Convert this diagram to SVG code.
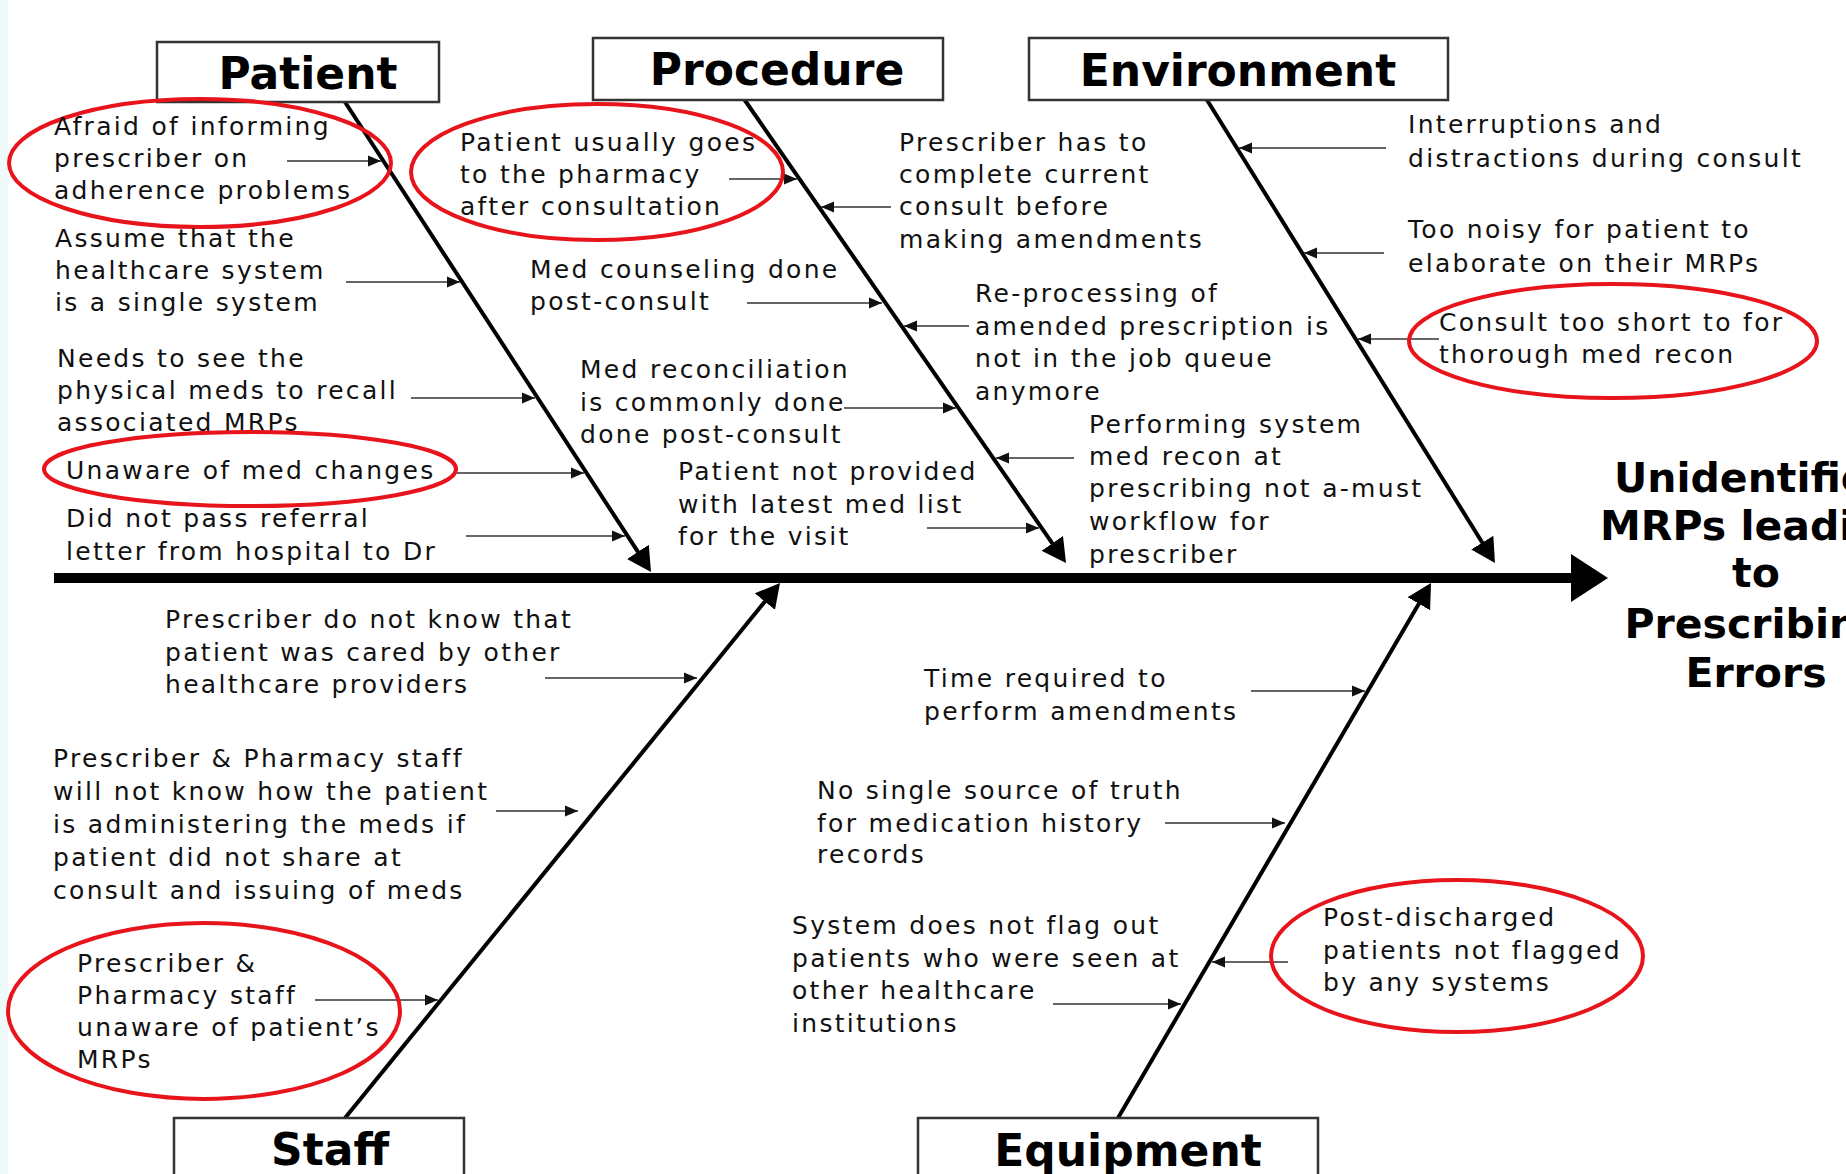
<svg xmlns="http://www.w3.org/2000/svg" width="1846" height="1174" viewBox="0 0 1846 1174">
<style>
.t{font-family:"DejaVu Sans","Liberation Sans",sans-serif;font-size:25px;letter-spacing:2.3px;fill:#111}
.h{font-family:"DejaVu Sans","Liberation Sans",sans-serif;font-size:44px;font-weight:bold;fill:#000;text-anchor:middle}
.e{font-family:"DejaVu Sans","Liberation Sans",sans-serif;font-size:41px;font-weight:bold;fill:#000;text-anchor:middle}
.box{fill:#fff;stroke:#333;stroke-width:2.5}
.ring{fill:none;stroke:#e8141c;stroke-width:4}
.bone{stroke:#000;stroke-width:4;fill:none;marker-end:url(#ba)}
.arr{stroke:#333;stroke-width:1.6;fill:none;marker-end:url(#sa)}
</style>
<defs>
<marker id="sa" markerUnits="userSpaceOnUse" markerWidth="14" markerHeight="12" refX="13" refY="6" orient="auto"><path d="M0,0.5 L13,6 L0,11.5 z" fill="#111"/></marker>
<marker id="ba" markerUnits="userSpaceOnUse" markerWidth="24" markerHeight="26" refX="4" refY="13" orient="auto"><path d="M0,0 L24,13 L0,26 z" fill="#000"/></marker>
</defs>
<rect x="0" y="0" width="1846" height="1174" fill="#fff"/>
<rect x="0" y="0" width="8" height="1174" fill="#effbfb"/>

<g id="connectors">
<line x1="54" y1="578" x2="1574" y2="578" stroke="#000" stroke-width="10"/>
<polygon points="1571,554 1608,578 1571,602" fill="#000"/>
<line class="bone" x1="345" y1="102" x2="640.1" y2="555.2"/>
<line class="bone" x1="744" y1="99" x2="1054.6" y2="546.6"/>
<line class="bone" x1="1207" y1="100" x2="1484.4" y2="546"/>
<line class="bone" x1="345" y1="1118" x2="767.4" y2="598.5"/>
<line class="bone" x1="1118" y1="1118" x2="1420.9" y2="600.3"/>
<line class="arr" x1="287" y1="161" x2="381" y2="161"/>
<line class="arr" x1="346" y1="282" x2="460" y2="282"/>
<line class="arr" x1="411" y1="398" x2="535" y2="398"/>
<line class="arr" x1="457" y1="473" x2="584" y2="473"/>
<line class="arr" x1="466" y1="536" x2="625" y2="536"/>
<line class="arr" x1="729" y1="179" x2="797" y2="179"/>
<line class="arr" x1="891" y1="207" x2="821" y2="207"/>
<line class="arr" x1="747" y1="303" x2="882" y2="303"/>
<line class="arr" x1="969" y1="326" x2="904" y2="326"/>
<line class="arr" x1="844" y1="408" x2="956" y2="408"/>
<line class="arr" x1="1074" y1="458" x2="996" y2="458"/>
<line class="arr" x1="927" y1="528" x2="1039" y2="528"/>
<line class="arr" x1="1386" y1="148" x2="1239" y2="148"/>
<line class="arr" x1="1384" y1="253" x2="1304" y2="253"/>
<line class="arr" x1="1439" y1="339" x2="1358" y2="339"/>
<line class="arr" x1="545" y1="678" x2="697" y2="678"/>
<line class="arr" x1="496" y1="811" x2="578" y2="811"/>
<line class="arr" x1="315" y1="1000" x2="438" y2="1000"/>
<line class="arr" x1="1251" y1="691" x2="1365" y2="691"/>
<line class="arr" x1="1165" y1="823" x2="1285" y2="823"/>
<line class="arr" x1="1053" y1="1004" x2="1181" y2="1004"/>
<line class="arr" x1="1288" y1="962" x2="1212" y2="962"/>
</g>

<g id="patient"><rect class="box" x="157" y="42" width="282" height="60"/><text class="h" x="308" y="89">Patient</text></g>
<g id="procedure"><rect class="box" x="593" y="38" width="350" height="62"/><text class="h" x="777" y="85">Procedure</text></g>
<g id="environment"><rect class="box" x="1029" y="38" width="419" height="62"/><text class="h" x="1238" y="86">Environment</text></g>
<g id="staff"><rect class="box" x="174" y="1118" width="290" height="70"/><text class="h" x="330" y="1165">Staff</text></g>
<g id="equipment"><rect class="box" x="918" y="1118" width="400" height="70"/><text class="h" x="1128" y="1166">Equipment</text></g>

<g id="effect"><text class="e"><tspan x="1756" y="492">Unidentified</tspan><tspan x="1756" y="540">MRPs leading</tspan><tspan x="1756" y="587">to</tspan><tspan x="1756" y="638">Prescribing</tspan><tspan x="1756" y="687">Errors</tspan></text></g>

<g id="c1"><ellipse class="ring" cx="200" cy="163" rx="191" ry="64"/><text class="t"><tspan x="54" y="135">Afraid of informing</tspan><tspan x="54" y="167">prescriber on</tspan><tspan x="54" y="199">adherence problems</tspan></text></g>
<g id="c2"><text class="t"><tspan x="55" y="247">Assume that the</tspan><tspan x="55" y="279">healthcare system</tspan><tspan x="55" y="311">is a single system</tspan></text></g>
<g id="c3"><text class="t"><tspan x="57" y="367">Needs to see the</tspan><tspan x="57" y="399">physical meds to recall</tspan><tspan x="57" y="431">associated MRPs</tspan></text></g>
<g id="c4"><ellipse class="ring" cx="250" cy="469" rx="206" ry="37"/><text class="t" x="66" y="479">Unaware of med changes</text></g>
<g id="c5"><text class="t"><tspan x="66" y="527">Did not pass referral</tspan><tspan x="66" y="560">letter from hospital to Dr</tspan></text></g>

<g id="c6"><ellipse class="ring" cx="597" cy="172" rx="186" ry="68"/><text class="t"><tspan x="460" y="151">Patient usually goes</tspan><tspan x="460" y="183">to the pharmacy</tspan><tspan x="460" y="215">after consultation</tspan></text></g>
<g id="c7"><text class="t"><tspan x="899" y="151">Prescriber has to</tspan><tspan x="899" y="183">complete current</tspan><tspan x="899" y="215">consult before</tspan><tspan x="899" y="248">making amendments</tspan></text></g>
<g id="c8"><text class="t"><tspan x="530" y="278">Med counseling done</tspan><tspan x="530" y="310">post-consult</tspan></text></g>
<g id="c9"><text class="t"><tspan x="975" y="302">Re-processing of</tspan><tspan x="975" y="335">amended prescription is</tspan><tspan x="975" y="367">not in the job queue</tspan><tspan x="975" y="400">anymore</tspan></text></g>
<g id="c10"><text class="t"><tspan x="580" y="378">Med reconciliation</tspan><tspan x="580" y="411">is commonly done</tspan><tspan x="580" y="443">done post-consult</tspan></text></g>
<g id="c11"><text class="t"><tspan x="1089" y="433">Performing system</tspan><tspan x="1089" y="465">med recon at</tspan><tspan x="1089" y="497">prescribing not a-must</tspan><tspan x="1089" y="530">workflow for</tspan><tspan x="1089" y="563">prescriber</tspan></text></g>
<g id="c12"><text class="t"><tspan x="678" y="480">Patient not provided</tspan><tspan x="678" y="513">with latest med list</tspan><tspan x="678" y="545">for the visit</tspan></text></g>

<g id="c13"><text class="t"><tspan x="1408" y="133">Interruptions and</tspan><tspan x="1408" y="167">distractions during consult</tspan></text></g>
<g id="c14"><text class="t"><tspan x="1408" y="238">Too noisy for patient to</tspan><tspan x="1408" y="272">elaborate on their MRPs</tspan></text></g>
<g id="c15"><ellipse class="ring" cx="1613" cy="341" rx="204" ry="57"/><text class="t"><tspan x="1439" y="331">Consult too short to for</tspan><tspan x="1439" y="363">thorough med recon</tspan></text></g>

<g id="c16"><text class="t"><tspan x="165" y="628">Prescriber do not know that</tspan><tspan x="165" y="661">patient was cared by other</tspan><tspan x="165" y="693">healthcare providers</tspan></text></g>
<g id="c17"><text class="t"><tspan x="53" y="767">Prescriber &amp; Pharmacy staff</tspan><tspan x="53" y="800">will not know how the patient</tspan><tspan x="53" y="833">is administering the meds if</tspan><tspan x="53" y="866">patient did not share at</tspan><tspan x="53" y="899">consult and issuing of meds</tspan></text></g>
<g id="c18"><ellipse class="ring" cx="204" cy="1011" rx="196" ry="88"/><text class="t"><tspan x="77" y="972">Prescriber &amp;</tspan><tspan x="77" y="1004">Pharmacy staff</tspan><tspan x="77" y="1036">unaware of patient’s</tspan><tspan x="77" y="1068">MRPs</tspan></text></g>

<g id="c19"><text class="t"><tspan x="924" y="687">Time required to</tspan><tspan x="924" y="720">perform amendments</tspan></text></g>
<g id="c20"><text class="t"><tspan x="817" y="799">No single source of truth</tspan><tspan x="817" y="832">for medication history</tspan><tspan x="817" y="863">records</tspan></text></g>
<g id="c21"><text class="t"><tspan x="792" y="934">System does not flag out</tspan><tspan x="792" y="967">patients who were seen at</tspan><tspan x="792" y="999">other healthcare</tspan><tspan x="792" y="1032">institutions</tspan></text></g>
<g id="c22"><ellipse class="ring" cx="1457" cy="956" rx="186" ry="76"/><text class="t"><tspan x="1323" y="926">Post-discharged</tspan><tspan x="1323" y="959">patients not flagged</tspan><tspan x="1323" y="991">by any systems</tspan></text></g>
</svg>
